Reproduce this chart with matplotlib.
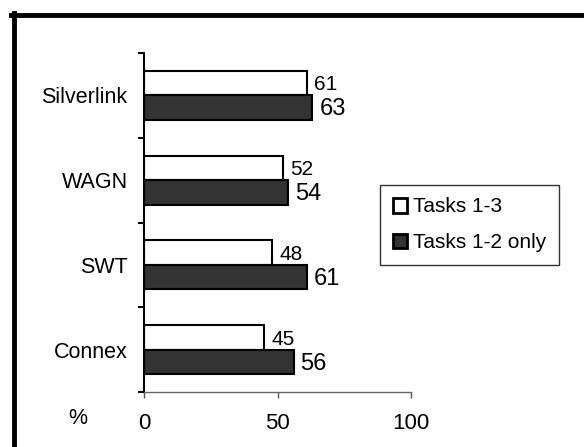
import matplotlib
matplotlib.use("Agg")
import matplotlib.pyplot as plt
import numpy as np
from matplotlib.lines import Line2D
from matplotlib.patches import Patch

plt.rcParams['font.family'] = ['Liberation Sans', 'DejaVu Sans']

operators = ["Connex", "SWT", "WAGN", "Silverlink"]
tasks_1_3 = [45, 48, 52, 61]
tasks_1_2 = [56, 61, 54, 63]
series_names = ["Tasks 1-3", "Tasks 1-2 only"]
x_ticks = [0, 50, 100]

fig = plt.figure(figsize=(5.84, 4.47), dpi=100)
ax = fig.add_axes([144.3 / 584, 1 - 392 / 447, 266.7 / 584, 339 / 447])

y = np.arange(len(operators))
h = 0.29
white = ax.barh(y + h / 2, tasks_1_3, height=h, color="white", edgecolor="black", linewidth=1.5)
dark = ax.barh(y - h / 2, tasks_1_2, height=h, color="#333333", edgecolor="black", linewidth=1.5)

for b, v in zip(white, tasks_1_3):
    ax.text(v + 2.8, b.get_y() + b.get_height() / 2 - 0.02, str(v), va="center", ha="left", fontsize=15)
for b, v in zip(dark, tasks_1_2):
    ax.text(v + 2.6, b.get_y() + b.get_height() / 2 - 0.02, str(v), va="center", ha="left", fontsize=17)

ax.set_xlim(0, 100)
ax.set_ylim(-0.5, len(operators) - 0.5)
ax.set_xticks(x_ticks)
ax.set_xticklabels([str(t) for t in x_ticks], fontsize=16)
ax.tick_params(axis="x", length=4, width=1, color="#555555", pad=11)

ax.set_yticks(y)
ax.set_yticklabels(operators, fontsize=15.5)
ax.set_yticks(np.arange(len(operators) + 1) - 0.5, minor=True)
ax.tick_params(axis="y", which="major", length=0, pad=12)
ax.tick_params(axis="y", which="minor", length=4, width=1.5)

for s in ["top", "right"]:
    ax.spines[s].set_visible(False)
ax.spines["left"].set_linewidth(1.5)
ax.spines["bottom"].set_linewidth(1)
ax.spines["bottom"].set_color("#666666")

fig.text(78 / 584, 1 - 418 / 447, "%", fontsize=15.5, ha="center", va="center")

handles = [Patch(facecolor="white", edgecolor="black", linewidth=2),
           Patch(facecolor="#333333", edgecolor="black", linewidth=2)]
leg = fig.legend(handles, series_names, loc="upper left",
                 bbox_to_anchor=(380 / 584, 1 - 185 / 447), fontsize=15,
                 frameon=True, fancybox=False, handlelength=0.7, handleheight=0.7,
                 handletextpad=0.3, labelspacing=0.8, borderpad=0.6, borderaxespad=0)
leg.get_frame().set_edgecolor("black")
leg.get_frame().set_linewidth(1)

# outer frame (only top and left edges visible)
fig.add_artist(Line2D([11 / 584, 1], [1 - 15 / 447, 1 - 15 / 447], color="black", linewidth=3.5))
fig.add_artist(Line2D([13.5 / 584, 13.5 / 584], [0, 1 - 13 / 447], color="black", linewidth=3.5))

fig.savefig("out.png", dpi=100)
